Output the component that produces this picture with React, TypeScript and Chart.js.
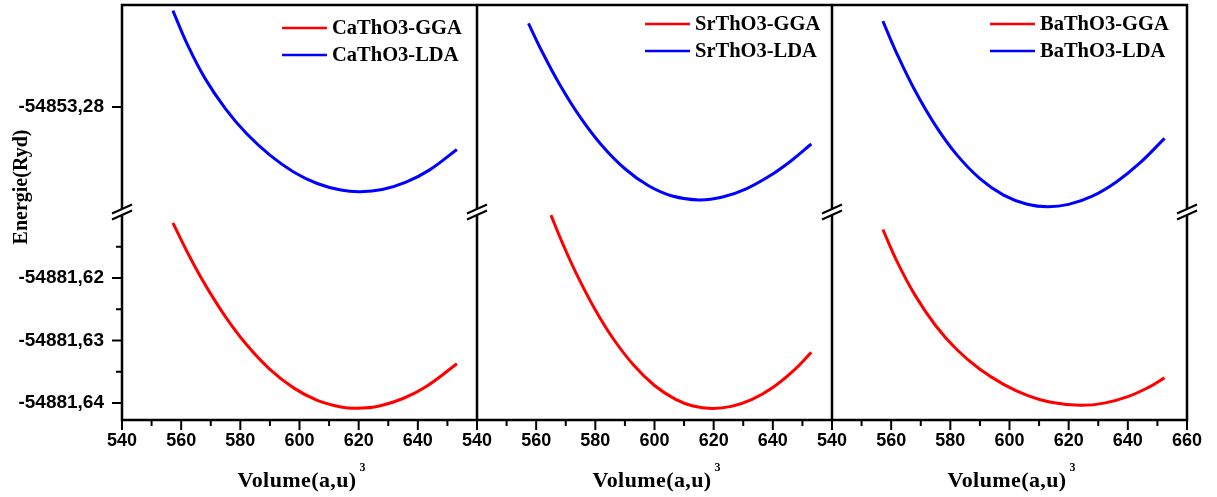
import React, { useEffect, useRef } from 'react';
import { Chart, registerables } from 'chart.js';

Chart.register(...registerables);

const W = 1217;
const H = 497;

// ---- Data (Volume in (a.u)^3, Energy in Ryd) ----
// Panel 1 : CaThO3
const caGgaV = [557.2, 562, 568, 575, 582, 590, 598, 606, 614, 619.5, 627, 635, 643, 653.2];
const caGgaE = [-54881.61117, -54881.61579, -54881.62098, -54881.62621, -54881.63059, -54881.63461, -54881.63758, -54881.63958, -54881.64064, -54881.64085, -54881.64047, -54881.63928, -54881.63731, -54881.63373];
const caLdaV = [557.2, 562, 568, 575, 582, 590, 598, 606, 614, 620.5, 628, 636, 644, 653.2];
const caLdaE = [-54853.26458, -54853.26990, -54853.27538, -54853.28030, -54853.28421, -54853.28771, -54853.29040, -54853.29224, -54853.29329, -54853.29355, -54853.29320, -54853.29203, -54853.29006, -54853.28680];

// Panel 2 : SrThO3
const srGgaV = [565.0, 569, 574, 580, 586, 593, 600, 607, 613, 619.5, 626, 633, 640, 647, 653.0];
const srGgaE = [-54881.60995, -54881.61453, -54881.61971, -54881.62512, -54881.62968, -54881.63397, -54881.63720, -54881.63939, -54881.64048, -54881.64088, -54881.64054, -54881.63942, -54881.63752, -54881.63483, -54881.63190];
const srLdaV = [557.4, 562, 568, 575, 582, 590, 598, 606, 615, 623, 631, 639, 646, 653.0];
const srLdaE = [-54853.26661, -54853.27115, -54853.27643, -54853.28170, -54853.28603, -54853.28988, -54853.29261, -54853.29425, -54853.29488, -54853.29441, -54853.29309, -54853.29101, -54853.28867, -54853.28592];

// Panel 3 : BaThO3
const baGgaV = [557.2, 562, 568, 575, 582, 590, 598, 606, 614, 624, 632, 640, 647, 652.4];
const baGgaE = [-54881.61224, -54881.61739, -54881.62270, -54881.62760, -54881.63136, -54881.63461, -54881.63701, -54881.63877, -54881.63987, -54881.64037, -54881.64002, -54881.63898, -54881.63749, -54881.63598];
const baLdaV = [557.2, 562, 568, 575, 582, 590, 598, 606, 613, 620, 628, 636, 644, 652.4];
const baLdaE = [-54853.26627, -54853.27154, -54853.27733, -54853.28298, -54853.28754, -54853.29146, -54853.29410, -54853.29557, -54853.29597, -54853.29558, -54853.29426, -54853.29203, -54853.28899, -54853.28502];

const panelNames = ['CaThO3', 'SrThO3', 'BaThO3'];

// ---- Axes ----
const X_MIN = 540;
const X_MAX = 660;
const X_MAJOR = [540, 560, 580, 600, 620, 640];
const X_MAJOR_LAST = [540, 560, 580, 600, 620, 640, 660];
const X_MINOR = [550, 570, 590, 610, 630, 650];

const Y_TOP_MIN = -54853.2968;
const Y_TOP_MAX = -54853.26368;
const Y_TOP_MAJOR = [-54853.28];
const Y_TOP_MINOR: number[] = [];

const Y_BOT_MIN = -54881.64272;
const Y_BOT_MAX = -54881.60944;
const Y_BOT_MAJOR = [-54881.62, -54881.63, -54881.64];
const Y_BOT_MINOR = [-54881.615, -54881.625, -54881.635];

const X_TITLE = 'Volume(a,u)';
const X_TITLE_SUP = '3';
const Y_TITLE = 'Energie(Ryd)';

const GGA_COLOR = '#ff0000';
const LDA_COLOR = '#0000ff';

const SANS = '"Liberation Sans", Arial, sans-serif';
const SERIF = '"Liberation Serif", "Times New Roman", serif';

const LEGEND_POS = [
  { dx: 160, dy: 23 },
  { dx: 168, dy: 19 },
  { dx: 158, dy: 19 },
];

const toPts = (vs: number[], es: number[]) => vs.map((v, i) => ({ x: v, y: es[i] }));

const series = [
  { gga: toPts(caGgaV, caGgaE), lda: toPts(caLdaV, caLdaE) },
  { gga: toPts(srGgaV, srGgaE), lda: toPts(srLdaV, srLdaE) },
  { gga: toPts(baGgaV, baGgaE), lda: toPts(baLdaV, baLdaE) },
];

const framePlugin = {
  id: 'frameAndDecor',
  afterDraw(chart: any) {
    const ctx: any = chart.ctx;
    const ca = chart.chartArea;
    const xs = ['x1', 'x2', 'x3'].map((id) => chart.scales[id]);
    const yTop = chart.scales.yTop;
    const yBot = chart.scales.yBot;
    const breakY = (yTop.bottom + yBot.top) / 2;
    const verticals = [xs[0].left, xs[1].left, xs[2].left, xs[2].right];

    ctx.save();
    ctx.strokeStyle = '#000';
    ctx.lineWidth = 2.5;
    ctx.beginPath();
    ctx.moveTo(ca.left - 1.25, ca.top);
    ctx.lineTo(ca.right + 1.25, ca.top);
    ctx.moveTo(ca.left - 1.25, ca.bottom);
    ctx.lineTo(ca.right + 1.25, ca.bottom);
    for (const x of verticals) {
      ctx.moveTo(x, ca.top);
      ctx.lineTo(x, ca.bottom);
    }
    ctx.stroke();

    // tick marks
    ctx.lineWidth = 2;
    ctx.beginPath();
    xs.forEach((s: any) => {
      for (const v of X_MAJOR_LAST) {
        const p = s.getPixelForValue(v);
        ctx.moveTo(p, ca.bottom);
        ctx.lineTo(p, ca.bottom + 10);
      }
      for (const v of X_MINOR) {
        const p = s.getPixelForValue(v);
        ctx.moveTo(p, ca.bottom);
        ctx.lineTo(p, ca.bottom + 6);
      }
    });
    const yTicks: [any, number[], number][] = [
      [yTop, Y_TOP_MAJOR, 10],
      [yTop, Y_TOP_MINOR, 6],
      [yBot, Y_BOT_MAJOR, 10],
      [yBot, Y_BOT_MINOR, 6],
    ];
    for (const [s, vals, len] of yTicks) {
      for (const v of vals) {
        const p = s.getPixelForValue(v);
        ctx.moveTo(ca.left, p);
        ctx.lineTo(ca.left - len, p);
      }
    }
    ctx.stroke();

    // axis breaks
    const yA = breakY - 3;
    const yB = breakY + 3;
    for (const x of verticals) {
      ctx.fillStyle = '#fff';
      ctx.fillRect(x - 2, yA, 4, yB - yA);
      ctx.beginPath();
      ctx.lineWidth = 2;
      ctx.moveTo(x - 10, yA + 4.5);
      ctx.lineTo(x + 10, yA - 4.5);
      ctx.moveTo(x - 10, yB + 4.5);
      ctx.lineTo(x + 10, yB - 4.5);
      ctx.stroke();
    }

    // legends
    ctx.font = `bold 20.5px ${SERIF}`;
    ctx.textBaseline = 'middle';
    ctx.textAlign = 'left';
    xs.forEach((s: any, i: number) => {
      const lx = s.left + LEGEND_POS[i].dx;
      const ly = ca.top + LEGEND_POS[i].dy;
      const items = [chart.data.datasets[i * 2], chart.data.datasets[i * 2 + 1]];
      items.forEach((ds: any, k: number) => {
        const y = ly + k * 27;
        ctx.strokeStyle = ds.borderColor;
        ctx.lineWidth = 2.5;
        ctx.beginPath();
        ctx.moveTo(lx, y);
        ctx.lineTo(lx + 45, y);
        ctx.stroke();
        ctx.fillStyle = '#000';
        ctx.fillText(ds.label, lx + 50, y + 1);
      });
    });

    // x titles
    ctx.fillStyle = '#000';
    ctx.textBaseline = 'alphabetic';
    ctx.textAlign = 'left';
    xs.forEach((s: any) => {
      ctx.font = `bold 22px ${SERIF}`;
      ctx.letterSpacing = '0.4px';
      const w1 = ctx.measureText(X_TITLE).width;
      ctx.font = `bold 12px ${SERIF}`;
      ctx.letterSpacing = '0px';
      const w2 = ctx.measureText(X_TITLE_SUP).width;
      const total = w1 + 3 + w2;
      const x0 = (s.left + s.right) / 2 - total / 2 + 2;
      ctx.font = `bold 22px ${SERIF}`;
      ctx.letterSpacing = '0.4px';
      ctx.fillText(X_TITLE, x0, 487);
      ctx.font = `bold 12px ${SERIF}`;
      ctx.letterSpacing = '0px';
      ctx.fillText(X_TITLE_SUP, x0 + w1 + 3, 471);
    });

    // y title
    ctx.save();
    ctx.translate(22, 187);
    ctx.rotate(-Math.PI / 2);
    ctx.font = `bold 20px ${SERIF}`;
    ctx.textAlign = 'center';
    ctx.textBaseline = 'middle';
    ctx.fillStyle = '#000';
    ctx.fillText(Y_TITLE, 0, 0);
    ctx.restore();

    ctx.restore();
  },
};

function xScale(i: number) {
  return {
    type: 'linear',
    position: 'bottom',
    stack: 'xs',
    stackWeight: 1,
    min: X_MIN,
    max: X_MAX,
    afterBuildTicks: (s: any) => {
      s.ticks = (i === 2 ? X_MAJOR_LAST : X_MAJOR).map((v) => ({ value: v }));
    },
    afterFit: (s: any) => {
      s.height = 77;
      s.paddingLeft = 0;
      s.paddingRight = 0;
      s.paddingTop = 0;
      s.paddingBottom = 0;
    },
    grid: { display: false, drawTicks: true, tickLength: 10 },
    border: { display: false },
    ticks: {
      autoSkip: false,
      maxRotation: 0,
      minRotation: 0,
      padding: 0,
      color: '#000',
      font: { family: SANS, size: 18, weight: 'bold' },
    },
    title: { display: false },
  };
}

function yScale(min: number, max: number, majors: number[], weight: number) {
  return {
    type: 'linear',
    position: 'left',
    stack: 'ys',
    stackWeight: weight,
    min,
    max,
    afterBuildTicks: (s: any) => {
      s.ticks = majors.map((v) => ({ value: v }));
    },
    afterFit: (s: any) => {
      s.width = 122;
      s.paddingLeft = 0;
      s.paddingRight = 0;
      s.paddingTop = 0;
      s.paddingBottom = 0;
    },
    grid: { display: false, drawTicks: true, tickLength: 10 },
    border: { display: false },
    ticks: {
      autoSkip: false,
      padding: 8,
      color: '#000',
      font: { family: SANS, size: 19, weight: 'bold' },
      callback: (v: any) => Number(v).toFixed(2).replace('.', ','),
    },
  };
}

export default function App() {
  const ref = useRef<HTMLCanvasElement | null>(null);

  useEffect(() => {
    if (!ref.current) return;
    const datasets: any[] = [];
    series.forEach((s, i) => {
      const xId = `x${i + 1}`;
      datasets.push({
        label: `${panelNames[i]}-GGA`,
        data: s.gga,
        xAxisID: xId,
        yAxisID: 'yBot',
        borderColor: GGA_COLOR,
        backgroundColor: GGA_COLOR,
        borderWidth: 3,
        pointRadius: 0,
        fill: false,
        tension: 0.4,
      });
      datasets.push({
        label: `${panelNames[i]}-LDA`,
        data: s.lda,
        xAxisID: xId,
        yAxisID: 'yTop',
        borderColor: LDA_COLOR,
        backgroundColor: LDA_COLOR,
        borderWidth: 3,
        pointRadius: 0,
        fill: false,
        tension: 0.4,
      });
    });

    const chart = new Chart(ref.current, {
      type: 'line',
      data: { datasets },
      options: {
        responsive: false,
        animation: false,
        devicePixelRatio: 1,
        layout: { padding: { left: 0, top: 5, right: 30, bottom: 0 } },
        plugins: { legend: { display: false }, tooltip: { enabled: false } },
        scales: {
          x1: xScale(0),
          x2: xScale(1),
          x3: xScale(2),
          yBot: yScale(Y_BOT_MIN, Y_BOT_MAX, Y_BOT_MAJOR, 208),
          yTop: yScale(Y_TOP_MIN, Y_TOP_MAX, Y_TOP_MAJOR, 207),
        },
      } as any,
      plugins: [framePlugin],
    });
    return () => chart.destroy();
  }, []);

  return (
    <div style={{ position: 'fixed', left: 0, top: 0, width: W, height: H, background: '#fff' }}>
      <canvas ref={ref} width={W} height={H} style={{ display: 'block' }} />
    </div>
  );
}
